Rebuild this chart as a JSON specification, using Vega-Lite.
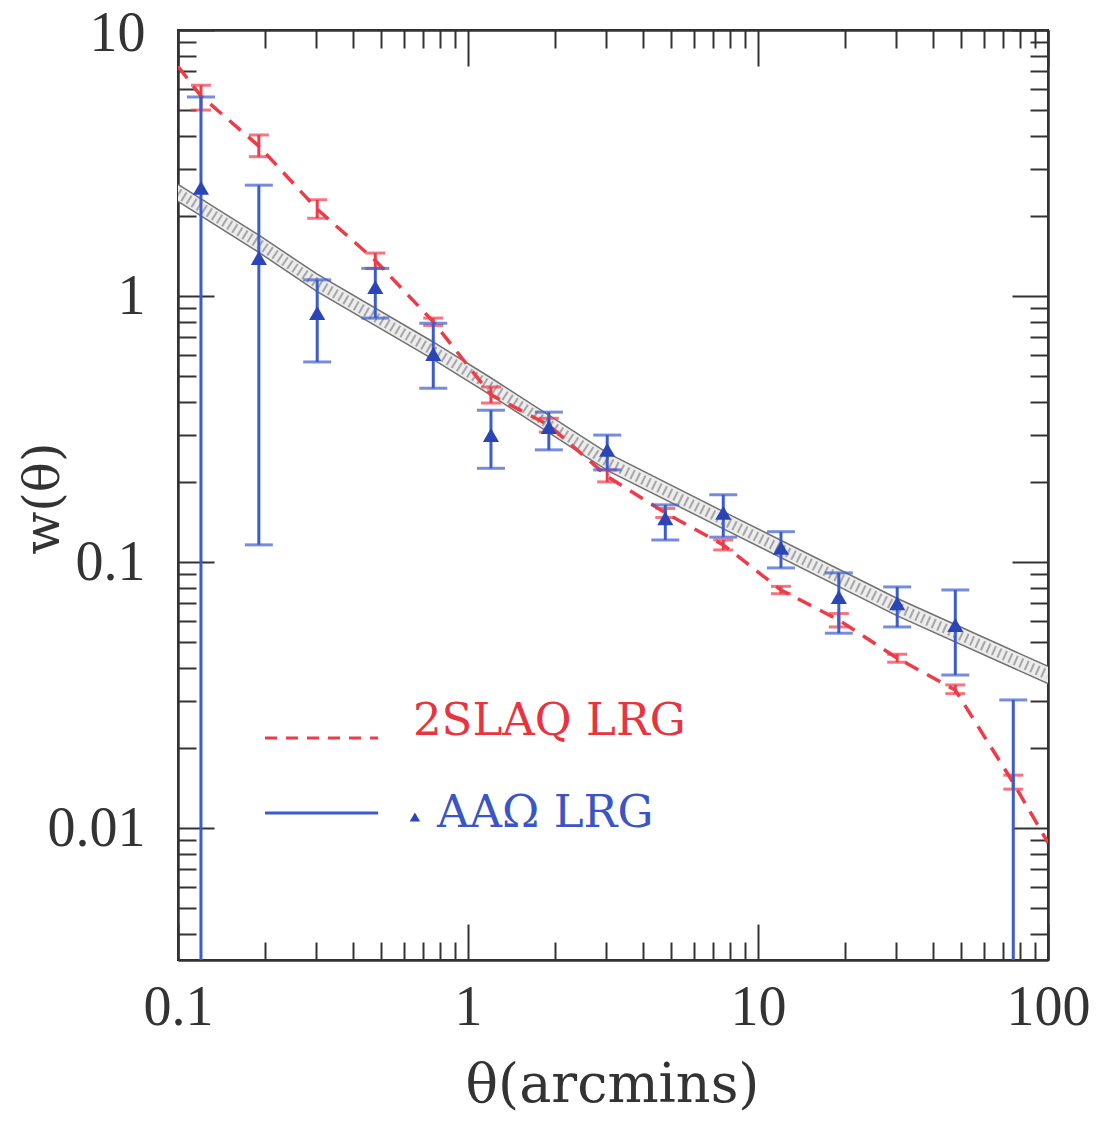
{
  "$schema": "https://vega.github.io/schema/vega-lite/v6.json",
  "width": 870,
  "height": 930,
  "autosize": {"type": "none"},
  "padding": {"left": 178, "top": 30, "right": 63, "bottom": 165},
  "background": "white",
  "config": {
    "view": {"stroke": "#333333", "strokeWidth": 2},
    "axis": {
      "grid": false,
      "domainColor": "#333333",
      "domainWidth": 2,
      "tickColor": "#333333",
      "tickWidth": 2,
      "labelFont": "Liberation Serif",
      "labelFontSize": 56,
      "labelColor": "#333333",
      "labelFlush": false,
      "labelOverlap": false,
      "labelBound": false,
      "titleFont": "DejaVu Serif",
      "titleColor": "#333333",
      "titleFontWeight": "normal"
    }
  },
  "datasets": {
    "band": [
      {"theta": 0.1, "lo": 2.27, "mid": 2.44, "hi": 2.63},
      {"theta": 0.189, "lo": 1.465, "mid": 1.58, "hi": 1.70},
      {"theta": 0.301, "lo": 1.04, "mid": 1.12, "hi": 1.21},
      {"theta": 0.751, "lo": 0.582, "mid": 0.627, "hi": 0.676},
      {"theta": 1.19, "lo": 0.426, "mid": 0.459, "hi": 0.495},
      {"theta": 3.02, "lo": 0.221, "mid": 0.238, "hi": 0.257},
      {"theta": 7.57, "lo": 0.1335, "mid": 0.144, "hi": 0.155},
      {"theta": 30.1, "lo": 0.0629, "mid": 0.0678, "hi": 0.0731},
      {"theta": 100, "lo": 0.0349, "mid": 0.0376, "hi": 0.0405}
    ],
    "slaqline": [
      {"theta": 0.1, "w": 7.3},
      {"theta": 0.12, "w": 5.65},
      {"theta": 0.19, "w": 3.66},
      {"theta": 0.302, "w": 2.12},
      {"theta": 0.479, "w": 1.36},
      {"theta": 0.759, "w": 0.8},
      {"theta": 1.2, "w": 0.425},
      {"theta": 1.9, "w": 0.327},
      {"theta": 3.02, "w": 0.21},
      {"theta": 4.79, "w": 0.153},
      {"theta": 7.59, "w": 0.116},
      {"theta": 12.0, "w": 0.0785},
      {"theta": 19.0, "w": 0.0605},
      {"theta": 30.2, "w": 0.0435},
      {"theta": 47.9, "w": 0.033},
      {"theta": 75.9, "w": 0.0148},
      {"theta": 100, "w": 0.0088}
    ],
    "slaq": [
      {"theta": 0.12, "w": 5.65, "lo": 5.0, "hi": 6.2},
      {"theta": 0.19, "w": 3.66, "lo": 3.34, "hi": 4.03},
      {"theta": 0.302, "w": 2.12, "lo": 1.96, "hi": 2.3},
      {"theta": 0.479, "w": 1.36, "lo": 1.27, "hi": 1.45},
      {"theta": 0.759, "w": 0.8, "lo": 0.775, "hi": 0.826},
      {"theta": 1.2, "w": 0.425, "lo": 0.396, "hi": 0.455},
      {"theta": 1.9, "w": 0.327, "lo": 0.308, "hi": 0.347},
      {"theta": 3.02, "w": 0.21, "lo": 0.2, "hi": 0.222},
      {"theta": 4.79, "w": 0.153, "lo": 0.147, "hi": 0.159},
      {"theta": 7.59, "w": 0.116, "lo": 0.111, "hi": 0.121},
      {"theta": 12.0, "w": 0.0785, "lo": 0.076, "hi": 0.081},
      {"theta": 19.0, "w": 0.0605, "lo": 0.057, "hi": 0.064},
      {"theta": 30.2, "w": 0.0435, "lo": 0.042, "hi": 0.045},
      {"theta": 47.9, "w": 0.033, "lo": 0.032, "hi": 0.0345},
      {"theta": 75.9, "w": 0.0148, "lo": 0.014, "hi": 0.0158}
    ],
    "aao": [
      {"theta": 0.12, "w": 2.55, "lo": 0.0005, "hi": 5.6},
      {"theta": 0.19, "w": 1.39, "lo": 0.116, "hi": 2.61},
      {"theta": 0.302, "w": 0.863, "lo": 0.565, "hi": 1.15},
      {"theta": 0.479, "w": 1.08, "lo": 0.826, "hi": 1.27},
      {"theta": 0.759, "w": 0.605, "lo": 0.45, "hi": 0.79},
      {"theta": 1.2, "w": 0.3, "lo": 0.225, "hi": 0.372},
      {"theta": 1.9, "w": 0.322, "lo": 0.264, "hi": 0.366},
      {"theta": 3.02, "w": 0.264, "lo": 0.222, "hi": 0.3},
      {"theta": 4.79, "w": 0.146, "lo": 0.121, "hi": 0.164},
      {"theta": 7.59, "w": 0.153, "lo": 0.124, "hi": 0.179},
      {"theta": 12.0, "w": 0.113, "lo": 0.095, "hi": 0.13},
      {"theta": 19.0, "w": 0.0738, "lo": 0.054, "hi": 0.091},
      {"theta": 30.2, "w": 0.07, "lo": 0.057, "hi": 0.0806},
      {"theta": 47.9, "w": 0.058, "lo": 0.0376, "hi": 0.0785},
      {"theta": 75.9, "w": null, "lo": 0.0005, "hi": 0.0303}
    ],
    "legline": [
      {"series": "2SLAQ", "theta": 0.1995, "w": 0.0218},
      {"series": "2SLAQ", "theta": 0.49, "w": 0.0218},
      {"series": "AAO", "theta": 0.1995, "w": 0.01138},
      {"series": "AAO", "theta": 0.49, "w": 0.01138}
    ],
    "legpoint": [
      {"series": "AAO", "theta": 0.656, "w": 0.011}
    ],
    "legtext": [
      {"series": "2SLAQ", "label": "2SLAQ LRG", "theta": 0.646, "w": 0.0224},
      {"series": "AAO", "label": "AAΩ LRG", "theta": 0.782, "w": 0.0101}
    ]
  },
  "resolve": {"axis": {"x": "independent", "y": "independent"}},
  "layer": [
    {
      "data": {"name": "band"},
      "mark": {"type": "area", "fill": "#ececec", "clip": true},
      "encoding": {
        "x": {
          "field": "theta", "type": "quantitative",
          "scale": {"type": "log", "domain": [0.1, 100], "nice": false},
          "axis": {
            "orient": "bottom", "values": [0.1, 1, 10, 100], "tickSize": -36,
            "labelPadding": 56, "labelBaseline": "top", "labelExpr": "'' + datum.value",
            "title": "θ(arcmins)", "titleFontSize": 54, "titleX": 434, "titleY": 125,
            "titleAlign": "center", "titleBaseline": "middle", "titleAngle": 0
          }
        },
        "y": {
          "field": "lo", "type": "quantitative",
          "scale": {"type": "log", "domain": [0.00319, 10], "nice": false},
          "axis": {
            "orient": "left", "values": [0.01, 0.1, 1, 10], "tickSize": -36,
            "labelPadding": 69, "labelBaseline": "middle", "labelExpr": "'' + datum.value",
            "labelOffset": {"condition": {"test": "datum.value == 10", "value": 3}, "value": 0},
            "title": "w(θ)", "titleFontSize": 50, "titleX": -135, "titleY": 468,
            "titleAlign": "center", "titleBaseline": "middle", "titleAngle": -90
          }
        },
        "y2": {"field": "hi"}
      }
    },
    {
      "data": {"name": "band"},
      "mark": {"type": "line", "stroke": "#707070", "strokeWidth": 1.5, "clip": true},
      "encoding": {
        "x": {
          "field": "theta", "type": "quantitative",
          "scale": {"type": "log", "domain": [0.1, 100], "nice": false},
          "axis": {"orient": "top", "values": [0.1, 1, 10, 100], "tickSize": -36, "labels": false, "title": null}
        },
        "y": {
          "field": "hi", "type": "quantitative",
          "scale": {"type": "log", "domain": [0.00319, 10], "nice": false},
          "axis": {"orient": "right", "values": [0.01, 0.1, 1, 10], "tickSize": -36, "labels": false, "title": null}
        }
      }
    },
    {
      "data": {"name": "band"},
      "mark": {"type": "line", "stroke": "#707070", "strokeWidth": 1.5, "clip": true},
      "encoding": {
        "x": {
          "field": "theta", "type": "quantitative",
          "scale": {"type": "log", "domain": [0.1, 100], "nice": false},
          "axis": {"orient": "bottom", "values": [0.2, 0.3, 0.4, 0.5, 0.6, 0.7, 0.8, 0.9, 2, 3, 4, 5, 6, 7, 8, 9, 20, 30, 40, 50, 60, 70, 80, 90], "tickSize": -18, "labels": false, "title": null}
        },
        "y": {
          "field": "lo", "type": "quantitative",
          "scale": {"type": "log", "domain": [0.00319, 10], "nice": false},
          "axis": {"orient": "left", "values": [0.004, 0.005, 0.006, 0.007, 0.008, 0.009, 0.02, 0.03, 0.04, 0.05, 0.06, 0.07, 0.08, 0.09, 0.2, 0.3, 0.4, 0.5, 0.6, 0.7, 0.8, 0.9, 2, 3, 4, 5, 6, 7, 8, 9], "tickSize": -18, "labels": false, "title": null}
        }
      }
    },
    {
      "data": {"name": "band"},
      "mark": {"type": "line", "stroke": "#606060", "strokeWidth": 10, "strokeDash": [2, 4], "opacity": 0.5, "clip": true},
      "encoding": {
        "x": {
          "field": "theta", "type": "quantitative",
          "scale": {"type": "log", "domain": [0.1, 100], "nice": false},
          "axis": {"orient": "top", "values": [0.2, 0.3, 0.4, 0.5, 0.6, 0.7, 0.8, 0.9, 2, 3, 4, 5, 6, 7, 8, 9, 20, 30, 40, 50, 60, 70, 80, 90], "tickSize": -18, "labels": false, "title": null}
        },
        "y": {
          "field": "mid", "type": "quantitative",
          "scale": {"type": "log", "domain": [0.00319, 10], "nice": false},
          "axis": {"orient": "right", "values": [0.004, 0.005, 0.006, 0.007, 0.008, 0.009, 0.02, 0.03, 0.04, 0.05, 0.06, 0.07, 0.08, 0.09, 0.2, 0.3, 0.4, 0.5, 0.6, 0.7, 0.8, 0.9, 2, 3, 4, 5, 6, 7, 8, 9], "tickSize": -18, "labels": false, "title": null}
        }
      }
    },
    {
      "data": {"name": "slaqline"},
      "mark": {"type": "line", "stroke": "#ee3b48", "strokeWidth": 3.5, "strokeDash": [15, 10], "clip": true},
      "encoding": {
        "x": {"field": "theta", "type": "quantitative", "scale": {"type": "log", "domain": [0.1, 100], "nice": false}, "axis": null},
        "y": {"field": "w", "type": "quantitative", "scale": {"type": "log", "domain": [0.00319, 10], "nice": false}, "axis": null}
      }
    },
    {
      "data": {"name": "slaq"},
      "mark": {"type": "rule", "stroke": "#ee3b48", "strokeWidth": 3, "clip": true},
      "encoding": {
        "x": {"field": "theta", "type": "quantitative", "scale": {"type": "log", "domain": [0.1, 100], "nice": false}, "axis": null},
        "y": {"field": "lo", "type": "quantitative", "scale": {"type": "log", "domain": [0.00319, 10], "nice": false}, "axis": null},
        "y2": {"field": "hi"}
      }
    },
    {
      "data": {"name": "slaq"},
      "mark": {"type": "tick", "orient": "horizontal", "size": 20, "thickness": 3, "color": "#ee3b48", "clip": true},
      "encoding": {
        "x": {"field": "theta", "type": "quantitative", "scale": {"type": "log", "domain": [0.1, 100], "nice": false}, "axis": null},
        "y": {"field": "hi", "type": "quantitative", "scale": {"type": "log", "domain": [0.00319, 10], "nice": false}, "axis": null}
      }
    },
    {
      "data": {"name": "slaq"},
      "mark": {"type": "tick", "orient": "horizontal", "size": 20, "thickness": 3, "color": "#ee3b48", "clip": true},
      "encoding": {
        "x": {"field": "theta", "type": "quantitative", "scale": {"type": "log", "domain": [0.1, 100], "nice": false}, "axis": null},
        "y": {"field": "lo", "type": "quantitative", "scale": {"type": "log", "domain": [0.00319, 10], "nice": false}, "axis": null}
      }
    },
    {
      "data": {"name": "aao"},
      "mark": {"type": "rule", "stroke": "#3d5ccc", "strokeWidth": 3, "clip": true},
      "encoding": {
        "x": {"field": "theta", "type": "quantitative", "scale": {"type": "log", "domain": [0.1, 100], "nice": false}, "axis": null},
        "y": {"field": "lo", "type": "quantitative", "scale": {"type": "log", "domain": [0.00319, 10], "nice": false}, "axis": null},
        "y2": {"field": "hi"}
      }
    },
    {
      "data": {"name": "aao"},
      "mark": {"type": "tick", "orient": "horizontal", "size": 28, "thickness": 3, "color": "#3d5ccc", "clip": true},
      "encoding": {
        "x": {"field": "theta", "type": "quantitative", "scale": {"type": "log", "domain": [0.1, 100], "nice": false}, "axis": null},
        "y": {"field": "hi", "type": "quantitative", "scale": {"type": "log", "domain": [0.00319, 10], "nice": false}, "axis": null}
      }
    },
    {
      "data": {"name": "aao"},
      "mark": {"type": "tick", "orient": "horizontal", "size": 28, "thickness": 3, "color": "#3d5ccc", "clip": true},
      "encoding": {
        "x": {"field": "theta", "type": "quantitative", "scale": {"type": "log", "domain": [0.1, 100], "nice": false}, "axis": null},
        "y": {"field": "lo", "type": "quantitative", "scale": {"type": "log", "domain": [0.00319, 10], "nice": false}, "axis": null}
      }
    },
    {
      "data": {"name": "aao"},
      "mark": {"type": "point", "shape": "triangle-up", "size": 260, "filled": true, "color": "#2a45b5", "opacity": 1, "clip": true},
      "encoding": {
        "x": {"field": "theta", "type": "quantitative", "scale": {"type": "log", "domain": [0.1, 100], "nice": false}, "axis": null},
        "y": {"field": "w", "type": "quantitative", "scale": {"type": "log", "domain": [0.00319, 10], "nice": false}, "axis": null}
      }
    },
    {
      "data": {"name": "legline"},
      "transform": [{"filter": "datum.series === '2SLAQ'"}],
      "mark": {"type": "line", "stroke": "#ee3b48", "strokeWidth": 3, "strokeDash": [12, 9]},
      "encoding": {
        "x": {"field": "theta", "type": "quantitative", "scale": {"type": "log", "domain": [0.1, 100], "nice": false}, "axis": null},
        "y": {"field": "w", "type": "quantitative", "scale": {"type": "log", "domain": [0.00319, 10], "nice": false}, "axis": null}
      }
    },
    {
      "data": {"name": "legline"},
      "transform": [{"filter": "datum.series === 'AAO'"}],
      "mark": {"type": "line", "stroke": "#3d5ccc", "strokeWidth": 3},
      "encoding": {
        "x": {"field": "theta", "type": "quantitative", "scale": {"type": "log", "domain": [0.1, 100], "nice": false}, "axis": null},
        "y": {"field": "w", "type": "quantitative", "scale": {"type": "log", "domain": [0.00319, 10], "nice": false}, "axis": null}
      }
    },
    {
      "data": {"name": "legpoint"},
      "mark": {"type": "point", "shape": "triangle-up", "size": 110, "filled": true, "color": "#2a45b5", "opacity": 1},
      "encoding": {
        "x": {"field": "theta", "type": "quantitative", "scale": {"type": "log", "domain": [0.1, 100], "nice": false}, "axis": null},
        "y": {"field": "w", "type": "quantitative", "scale": {"type": "log", "domain": [0.00319, 10], "nice": false}, "axis": null}
      }
    },
    {
      "data": {"name": "legtext"},
      "transform": [{"filter": "datum.series === '2SLAQ'"}],
      "mark": {"type": "text", "font": "DejaVu Serif", "fontSize": 45, "align": "left", "baseline": "alphabetic", "color": "#e8343e"},
      "encoding": {
        "x": {"field": "theta", "type": "quantitative", "scale": {"type": "log", "domain": [0.1, 100], "nice": false}, "axis": null},
        "y": {"field": "w", "type": "quantitative", "scale": {"type": "log", "domain": [0.00319, 10], "nice": false}, "axis": null},
        "text": {"field": "label"}
      }
    },
    {
      "data": {"name": "legtext"},
      "transform": [{"filter": "datum.series === 'AAO'"}],
      "mark": {"type": "text", "font": "DejaVu Serif", "fontSize": 45, "align": "left", "baseline": "alphabetic", "color": "#3b55c4"},
      "encoding": {
        "x": {"field": "theta", "type": "quantitative", "scale": {"type": "log", "domain": [0.1, 100], "nice": false}, "axis": null},
        "y": {"field": "w", "type": "quantitative", "scale": {"type": "log", "domain": [0.00319, 10], "nice": false}, "axis": null},
        "text": {"field": "label"}
      }
    }
  ]
}
